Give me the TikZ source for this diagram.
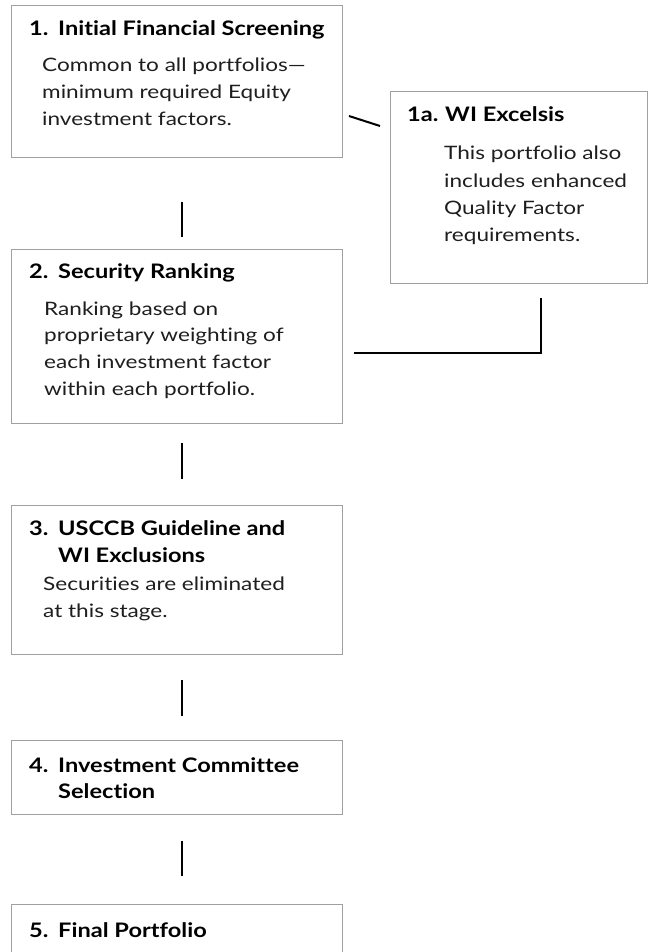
\documentclass[tikz,border=0pt]{standalone}
\usepackage{fontspec}
\setmainfont{Lato}[FakeStretch=1.18, Ligatures={NoCommon}]
\newfontfamily\bodyfont{Lato}[FakeStretch=1.22, Ligatures={NoCommon}]
\definecolor{boxgray}{HTML}{A0A0A0}
\definecolor{bodytext}{HTML}{1E1E1E}
\tikzset{
  box/.style={draw=boxgray, line width=1.3pt, inner sep=0pt, anchor=north west},
  conn/.style={draw=black, line width=2pt},
  headtxt/.style={anchor=base west, inner sep=0pt, text=black, font=\fontsize{20}{24}\selectfont\bfseries},
  bodytxt/.style={anchor=base west, inner sep=0pt, text=bodytext, font=\bodyfont\fontsize{18.5}{27}\selectfont},
}
\newcommand\txtlines[6]{% name, style, x, y0, pitch, list
  \foreach \l [count=\i] in {#6} {
    \node[#2] (#1-\i) at (#3, {#4+#5*(\i-1)}) {\l};
  }%
}
\begin{document}
\begin{tikzpicture}[x=1pt, y=-1pt]
\useasboundingbox (0,0) rectangle (650,952);
\clip (0,0) rectangle (650,952);

% boxes
\node[box, minimum width=331pt, minimum height=152pt] (b1) at (11,5) {};
\node[box, minimum width=257pt, minimum height=192pt] (b1a) at (390,91) {};
\node[box, minimum width=331pt, minimum height=174pt] (b2) at (11,249) {};
\node[box, minimum width=331pt, minimum height=149pt] (b3) at (11,505) {};
\node[box, minimum width=331pt, minimum height=74pt] (b4) at (11,740) {};
\node[box, minimum width=331pt, minimum height=80pt] (b5) at (11,904) {};

% box 1
\node[headtxt] (n1) at (29,36) {1.};
\txtlines{h1}{headtxt}{58}{36}{26.5}{Initial Financial Screening}
\txtlines{t1}{bodytxt}{42}{72}{26.8}{Common to all portfolios—,minimum required Equity,investment factors.}

% box 1a
\node[headtxt] (n1a) at (407,122) {1a.};
\txtlines{h1a}{headtxt}{445}{122}{26.5}{WI Excelsis}
\txtlines{t1a}{bodytxt}{444}{160}{27}{This portfolio also,includes enhanced,Quality Factor,requirements.}

% box 2
\node[headtxt] (n2) at (29,278) {2.};
\txtlines{h2}{headtxt}{58}{278}{26.5}{Security Ranking}
\txtlines{t2}{bodytxt}{44}{315}{26.7}{Ranking based on,proprietary weighting of,each investment factor,within each portfolio.}

% box 3
\node[headtxt] (n3) at (29,535) {3.};
\txtlines{h3}{headtxt}{58}{535}{27}{USCCB Guideline and,WI Exclusions}
\txtlines{t3}{bodytxt}{43}{590}{27}{Securities are eliminated,at this stage.}

% box 4
\node[headtxt] (n4) at (29,772) {4.};
\txtlines{h4}{headtxt}{58}{772}{26.5}{Investment Committee,Selection}

% box 5
\node[headtxt] (n5) at (29,937) {5.};
\txtlines{h5}{headtxt}{58}{937}{26.5}{Final Portfolio}

% connectors
\coordinate (c1a) at (182,202); \coordinate (c1b) at (182,237);
\coordinate (c2a) at (182,443); \coordinate (c2b) at (182,479);
\coordinate (c3a) at (182,680); \coordinate (c3b) at (182,716);
\coordinate (c4a) at (182,841); \coordinate (c4b) at (182,876);
\coordinate (s1) at (349,116); \coordinate (s2) at (380,126);
\coordinate (e1) at (541,298); \coordinate (e2) at (541,353); \coordinate (e3) at (354,353);
\draw[conn] (c1a) -- (c1b);
\draw[conn] (c2a) -- (c2b);
\draw[conn] (c3a) -- (c3b);
\draw[conn] (c4a) -- (c4b);
\draw[conn] (s1) -- (s2);
\draw[conn] (e1) -- (e2) -- (e3);
\end{tikzpicture}
\end{document}
